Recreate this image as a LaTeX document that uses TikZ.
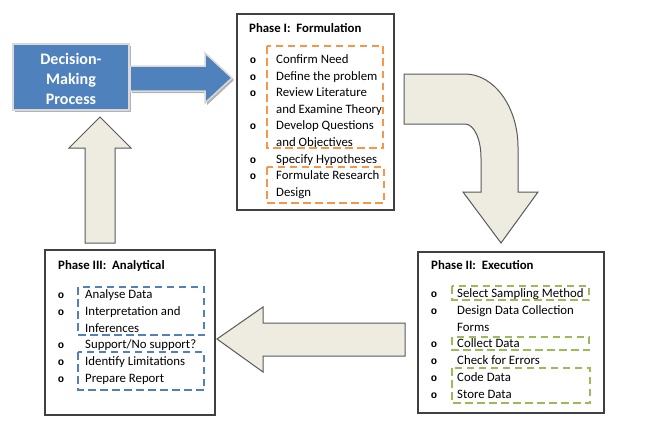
\documentclass[tikz,border=0pt]{standalone}
\usepackage{fontspec}
\setmainfont{Carlito}
\newfontfamily\bulletfont{Liberation Mono}
\definecolor{dmblue}{HTML}{4F81BD}
\definecolor{orng}{HTML}{F79646}
\definecolor{grn}{HTML}{9BBB59}
\definecolor{beige}{HTML}{EEECE1}
\definecolor{edge}{HTML}{595959}
\begin{document}
\begin{tikzpicture}[x=1pt,y=-1pt,
  phasebox/.style={draw=black!75, line width=1.2pt, fill=white},
  bigarrow/.style={fill=beige, draw=edge, line width=1pt, line join=miter},
  dashbox/.style={line width=2pt, dash pattern=on 7.5pt off 4.5pt},
  itemtxt/.style={anchor=base west, inner sep=0pt, font=\fontsize{12.8}{15}\selectfont},
  titletxt/.style={anchor=base west, inner sep=0pt, font=\fontsize{12.8}{15}\selectfont\bfseries},
  bul/.style={anchor=base, inner sep=0pt, font=\bulletfont\bfseries\fontsize{10.5}{13}\selectfont},
  dmtxt/.style={anchor=base, inner sep=0pt, text=white, font=\fontsize{16}{20}\selectfont\bfseries},
  shadowfill/.style={fill=black!30}
]
\useasboundingbox (0,0) rectangle (652,444);
\fill[white] (0,0) rectangle (652,444);

% ---------- Decision-making box and blue arrow ----------
\fill[shadowfill] (15,46) rectangle (131,112);
\fill[shadowfill] (132,68) -- (207,68) -- (207,55) -- (234,80) -- (207,105) -- (207,93) -- (132,93) -- cycle;
\draw[fill=dmblue, draw=black!15, line width=1.5pt] (130,66) -- (205,66) -- (205,53) -- (232,78) -- (205,103) -- (205,91) -- (130,91) -- cycle;
\draw[fill=dmblue, draw=black!15, line width=1.5pt] (13,44) rectangle (129,110);
\node[dmtxt] (dm1) at (71,64) {Decision-};
\node[dmtxt] (dm2) at (71,84) {Making};
\node[dmtxt] (dm3) at (71,104) {Process};

% ---------- Big beige arrows ----------
% curved arrow (Phase I -> Phase II)
\draw[bigarrow] (404,74) -- (465,74)
  .. controls (494,74) and (518,107) .. (518,147)
  -- (518,192) -- (538,192) -- (501,243) -- (463,192) -- (481,192) -- (481,158)
  .. controls (481,139) and (474,124) .. (465,124)
  -- (404,124) -- cycle;
% left arrow (Phase II -> Phase III)
\draw[bigarrow] (217,339) -- (263,307) -- (263,323) -- (405,323) -- (405,356) -- (263,356) -- (263,372) -- cycle;
% up arrow (Phase III -> Decision)
\draw[bigarrow] (100,117) -- (131,148) -- (115,148) -- (115,243) -- (85,243) -- (85,148) -- (69,148) -- cycle;

% ---------- Phase I ----------
\draw[phasebox] (237,14) rectangle (394,210);
\node[titletxt] (t1) at (249,32.5) {Phase I:\ \ Formulation};
\foreach \i/\txt/\b in {0/Confirm Need/1, 1/Define the problem/1, 2/Review Literature/1, 3/and Examine Theory/0, 4/Develop Questions/1, 5/and Objectives/0, 6/Specify Hypotheses/1, 7/Formulate Research/1, 8/Design/0}{
  \node[itemtxt] (pa\i) at (276,63.5+16.6*\i) {\txt};
  \ifnum\b=1 \node[bul] (ba\i) at (253,63.5+16.6*\i) {o};\fi
}
\draw[dashbox, orng] (267,46) rectangle (383,148);
\draw[dashbox, orng] (267,167) rectangle (384,203);

% ---------- Phase II ----------
\draw[phasebox] (418,252) rectangle (604,413);
\node[titletxt] (t2) at (431,269.5) {Phase II:\ \ Execution};
\foreach \i/\txt/\b in {0/Select Sampling Method/1, 1/Design Data Collection/1, 2/Forms/0, 3/Collect Data/1, 4/Check for Errors/1, 5/Code Data/1, 6/Store Data/1}{
  \node[itemtxt] (pb\i) at (457,297.5+16.8*\i) {\txt};
  \ifnum\b=1 \node[bul] (bb\i) at (434,297.5+16.8*\i) {o};\fi
}
\draw[dashbox, grn] (452,286) rectangle (589,300);
\draw[dashbox, grn] (452,337) rectangle (589,350);
\draw[dashbox, grn] (452,368) rectangle (590,403);

% ---------- Phase III ----------
\draw[phasebox] (45,250) rectangle (215,415);
\node[titletxt] (t3) at (58,269.5) {Phase III:\ \ Analytical};
\foreach \i/\txt/\b in {0/Analyse Data/1, 1/Interpretation and/1, 2/Inferences/0, 3/Support\slash No support?/1, 4/Identify Limitations/1, 5/Prepare Report/1}{
  \node[itemtxt] (pc\i) at (85,298.5+16.8*\i) {\txt};
  \ifnum\b=1 \node[bul] (bc\i) at (61,298.5+16.8*\i) {o};\fi
}
\draw[dashbox, dmblue] (78,287) rectangle (204,335);
\draw[dashbox, dmblue] (78,352) rectangle (204,390);
\end{tikzpicture}
\end{document}
